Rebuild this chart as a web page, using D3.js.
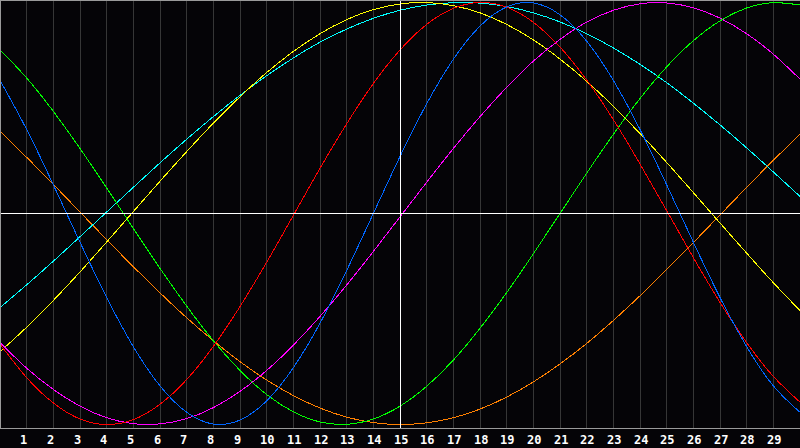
<!DOCTYPE html>
<html>
<head>
<meta charset="utf-8">
<script src="https://cdn.jsdelivr.net/npm/d3@7"></script>
<style>
  html, body { margin: 0; padding: 0; background: #050407; }
  .chart { width: 800px; height: 448px; }
</style>
</head>
<body>
<div class="chart"></div>
<script>
// sample positions 0..30, tick labels 1..29
const xs = d3.range(0, 31);
const tickLabels = d3.range(1, 30);

// values at each whole x step (-1 .. 1)
const yellow = [-0.655,-0.539,-0.412,-0.277,-0.135,0.009,0.153,0.293,0.428,0.553,0.668,0.768,0.852,0.919,0.966,0.993,1.000,0.985,0.951,0.896,0.823,0.732,0.627,0.508,0.379,0.242,0.099,-0.045,-0.188,-0.328,-0.460];
const cyan = [-0.446,-0.338,-0.226,-0.110,0.007,0.124,0.240,0.352,0.459,0.560,0.653,0.737,0.812,0.874,0.925,0.963,0.988,0.999,0.997,0.981,0.951,0.908,0.852,0.785,0.707,0.620,0.523,0.420,0.311,0.197,0.081];
const red = [-0.619,-0.778,-0.898,-0.974,-1.000,-0.977,-0.904,-0.787,-0.630,-0.441,-0.231,-0.009,0.214,0.425,0.616,0.775,0.896,0.972,1.000,0.978,0.906,0.789,0.633,0.445,0.235,0.014,-0.209,-0.421,-0.612,-0.772,-0.894];
const blue = [0.631,0.398,0.136,-0.136,-0.398,-0.631,-0.817,-0.942,-0.998,-0.979,-0.888,-0.731,-0.520,-0.270,0.000,0.270,0.520,0.731,0.888,0.979,0.998,0.942,0.817,0.631,0.398,0.136,-0.136,-0.398,-0.631,-0.817,-0.942];
const magenta = [-0.612,-0.733,-0.834,-0.913,-0.968,-0.996,-0.997,-0.972,-0.920,-0.843,-0.744,-0.624,-0.488,-0.339,-0.180,-0.016,0.148,0.308,0.459,0.598,0.722,0.825,0.907,0.963,0.994,0.998,0.975,0.926,0.852,0.755,0.637];
const green = [0.776,0.642,0.484,0.308,0.121,-0.071,-0.260,-0.439,-0.603,-0.744,-0.858,-0.940,-0.988,-0.999,-0.974,-0.913,-0.819,-0.695,-0.544,-0.375,-0.191,0.000,0.191,0.375,0.545,0.695,0.819,0.913,0.974,0.999,0.988];
const orange = [0.390,0.266,0.138,0.007,-0.124,-0.252,-0.376,-0.494,-0.603,-0.702,-0.789,-0.863,-0.922,-0.965,-0.991,-1.000,-0.992,-0.968,-0.927,-0.870,-0.798,-0.713,-0.616,-0.507,-0.390,-0.266,-0.138,-0.007,0.124,0.252,0.376];

const series = [
  {name: "orange",  values: orange,  color: "#ff8000"},
  {name: "cyan",    values: cyan,    color: "#00ffff"},
  {name: "yellow",  values: yellow,  color: "#ffff00"},
  {name: "magenta", values: magenta, color: "#ff00ff"},
  {name: "green",   values: green,   color: "#00ff00"},
  {name: "red",     values: red,     color: "#ff0000"},
  {name: "blue",    values: blue,    color: "#0066ff"}
];

const width = 800;
const height = 448;
const plotBottom = 428;

const svg = d3.select('.chart').append('svg')
    .attr("width", width)
    .attr("height", height)
    .style("display", "block");

svg.append("rect")
    .attr("width", width)
    .attr("height", height)
    .attr("fill", "#050407");

const xScale = d3.scaleLinear()
    .domain([0, 30])
    .range([0, width]);

const yScale = d3.scaleLinear()
    .domain([-1, 1])
    .range([424.5, 2.5]);

const px = v => Math.floor(v) + 0.5;

// vertical grid
svg.append("g")
    .selectAll("line")
    .data(tickLabels.filter(d => d !== 15))
    .join("line")
    .attr("x1", d => px(xScale(d)))
    .attr("x2", d => px(xScale(d)))
    .attr("y1", 0)
    .attr("y2", plotBottom)
    .attr("stroke", "#363636")
    .attr("shape-rendering", "crispEdges");

let line = d3.line()
    .curve(d3.curveNatural)
    .x((d, i) => xScale(xs[i]))
    .y(d => yScale(d));

svg.append("g")
    .selectAll("path")
    .data(series)
    .join("path")
    .attr("fill", "none")
    .attr("stroke", d => d.color)
    .attr("stroke-width", 1)
    .attr("shape-rendering", "crispEdges")
    .attr("d", d => line(d.values));

// centre cross
svg.append("line")
    .attr("x1", px(xScale(15))).attr("x2", px(xScale(15)))
    .attr("y1", 0).attr("y2", plotBottom)
    .attr("stroke", "#ffffff")
    .attr("shape-rendering", "crispEdges");

svg.append("line")
    .attr("x1", 0).attr("x2", width)
    .attr("y1", px(yScale(0))).attr("y2", px(yScale(0)))
    .attr("stroke", "#ffffff")
    .attr("shape-rendering", "crispEdges");

// frame
svg.append("path")
    .attr("d", `M0.5,${plotBottom + 0.5}V0.5H799.5M0,${plotBottom + 0.5}H800`)
    .attr("fill", "none")
    .attr("stroke", "#9a9a9a")
    .attr("shape-rendering", "crispEdges");

svg.append("g")
    .selectAll("text")
    .data(tickLabels)
    .join("text")
    .attr("x", d => Math.floor(xScale(d)) - 6)
    .attr("y", 444)
    .attr("fill", "#ffffff")
    .attr("font-family", "DejaVu Sans Mono")
    .attr("font-weight", "bold")
    .attr("font-size", "12px")
    .text(d => d);
</script>
</body>
</html>
